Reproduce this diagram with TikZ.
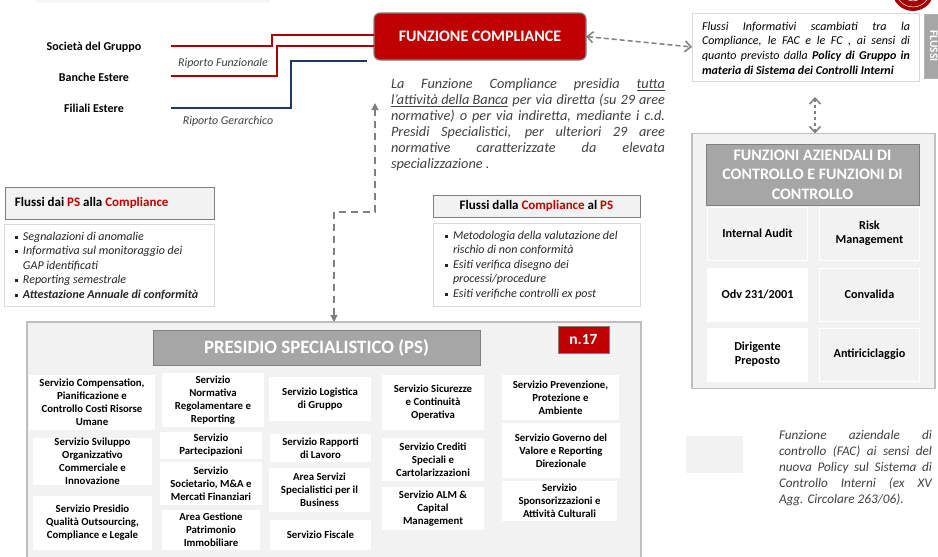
\documentclass[tikz,border=0pt]{standalone}
\usepackage{fontspec}
\setmainfont{Carlito}
\usepackage{xcolor}
\usepackage{tikz}
\usetikzlibrary{arrows.meta}

\definecolor{bankred}{HTML}{C00000}
\definecolor{bankblue}{HTML}{1F3864}
\definecolor{panelgray}{HTML}{F2F2F2}
\definecolor{headgray}{HTML}{A6A6A6}
\definecolor{edgegray}{HTML}{7F7F7F}
\definecolor{softgray}{HTML}{BFBFBF}
\definecolor{notetext}{HTML}{404040}

\newcommand{\blt}{\llap{\rule[1.8pt]{3pt}{3pt}\hspace{5.2pt}}}

\begin{document}
\begin{tikzpicture}[x=1pt,y=-1pt,line join=miter,
    every node/.style={inner sep=0pt,outer sep=0pt},
    label/.style={font=\fontsize{12}{14}\selectfont\bfseries,minimum width=154pt,align=center},
    riporto/.style={font=\fontsize{11.9}{14}\selectfont\itshape,text=notetext},
    redline/.style={draw=bankred!90!black,line width=1.2pt},
    blueline/.style={draw=bankblue,line width=1.1pt},
    flow/.style={draw=edgegray,line width=1.5pt,dash pattern=on 5pt off 3pt,{Straight Barb[length=6pt,width=11pt]}-{Straight Barb[length=6pt,width=11pt]}},
    note/.style={font=\fontsize{14.3}{16}\selectfont\itshape,text=notetext,align=justify,anchor=north west},
    flusso/.style={draw=edgegray,line width=0.9pt,fill=panelgray,font=\fontsize{13}{15}\selectfont\bfseries},
    flussotext/.style={font=\fontsize{13}{15}\selectfont\bfseries},
    listbox/.style={draw=black!15,line width=0.9pt,fill=white},
    listtext/.style={font=\fontsize{12}{14.5}\selectfont\itshape,text=black!85,align=left,anchor=north west},
    panel/.style={draw=softgray,line width=1.3pt,fill=panelgray},
    heading/.style={draw=edgegray,line width=0.6pt,fill=headgray,text=white,align=center},
    cellps/.style={fill=white,font=\fontsize{10.8}{13}\selectfont\bfseries,align=center},
    cellwhite/.style={fill=white,minimum width=101pt,minimum height=54pt,font=\fontsize{12.2}{14}\selectfont\bfseries,align=center},
    cellgray/.style={draw=white,line width=1pt,fill=panelgray,minimum width=100pt,minimum height=53pt,font=\fontsize{12.2}{14}\selectfont\bfseries,align=center}]

            \useasboundingbox (0,0) rectangle (938,557);
            \fill[black!3] (36,0) rectangle (270,3);

            % logo cut by the page
            \fill[bankred!85!black] (913,-10) circle (21pt);
            \draw[white,line width=0.5pt] (913,-10) circle (17pt) (913,-10) circle (11pt);

            % top left, the reporting lines
            \node[label] (societa) at (94,47) {Società del Gruppo};
            \node[label,node distance=30.5pt] (banche) [below of=societa] {Banche Estere};
            \node[label,node distance=30.5pt] (filiali) [below of=banche] {Filiali Estere};
            \node[draw=edgegray,line width=1.2pt,fill=bankred,rounded corners=6pt,minimum width=212pt,minimum height=47pt,text=white,font=\fontsize{16}{19}\selectfont\bfseries] (compliance) at (480,36.5) {FUNZIONE COMPLIANCE};
            \coordinate (upin) at (374,35);
            \coordinate (lowin) at (374,46);
            \coordinate (bluein) at (367,61);
            \draw[redline] (societa.east |- 0,46) -| (272,35) -- (upin);
            \draw[redline] (banche.east |- 0,76) -| (277,46) -- (lowin);
            \draw[blueline] (filiali.east |- 0,108) -| (291,61) -- (bluein);
            \node[riporto] (funzionale) at (223,63) {Riporto Funzionale};
            \node[riporto] (gerarchico) at (228,121) {Riporto Gerarchico};

            \node[note,text width=274pt] (presidia) at (391,79) {La Funzione Compliance presidia \underline{tutta}\linebreak
                \underline{l'attività della Banca} per via diretta (su 29 aree\linebreak
                normative) o per via indiretta, mediante i c.d.\linebreak
                Presidi Specialistici, per ulteriori 29 aree\linebreak
                normative caratterizzate da elevata\linebreak
                specializzazione .};

            % top right
            \node[draw=black!15,line width=0.9pt,fill=white,minimum width=227pt,minimum height=68pt] (flussibox) at (805.5,47) {};
            \node[note,text=black,font=\fontsize{12}{14.6}\selectfont\itshape,text width=208pt] (flussitext) at (702,22) {Flussi Informativi scambiati tra la\linebreak
                Compliance, le FAC e le FC , ai sensi di\linebreak
                quanto previsto dalla \textbf{Policy di Gruppo in}\linebreak
                \textbf{materia di Sistema dei Controlli Interni}};
            \node[fill=headgray,draw=edgegray!60,line width=0.6pt,minimum width=16pt,minimum height=64pt] (tab) at (932,46) {};
            \node[rotate=-90,anchor=base,text=white,font=\fontsize{11.5}{14}\selectfont\bfseries] (tabtext) at (930,46) {FLUSSI};
            \draw[flow] (compliance.east) -- (flussibox.west);

            \node[panel,minimum width=243pt,minimum height=255pt] (funzioni) at (813.5,261) {};
            \coordinate (flussidown) at (815,97);
            \draw[flow,dash pattern=on 3pt off 3pt] (flussidown) -- (funzioni.north -| flussidown);
            \node[heading,minimum width=213pt,minimum height=61pt,font=\fontsize{16}{19.5}\selectfont\bfseries] (funzhead) at (812.5,174.5) {FUNZIONI AZIENDALI DI\\CONTROLLO E FUNZIONI DI\\CONTROLLO};
            \node[cellgray] (audit) at (757.5,233.5) {Internal Audit};
            \node[cellgray,node distance=112pt] (risk) [right of=audit] {Risk\\Management};
            \node[cellwhite,node distance=61pt] (odv) [below of=audit] {Odv 231/2001};
            \node[cellgray,node distance=61pt] (convalida) [below of=risk] {Convalida};
            \node[cellwhite,node distance=60pt] (dirigente) [below of=odv] {Dirigente\\Preposto};
            \node[cellgray,node distance=60pt] (antiricicl) [below of=convalida] {Antiriciclaggio};

            % legend
            \node[fill=panelgray,minimum width=57pt,minimum height=37pt] (legenda) at (714.5,454.5) {};
            \node[note,font=\fontsize{13.2}{16}\selectfont\itshape,text width=153pt] (legendatext) at (779,430) {Funzione aziendale di\linebreak
                controllo (FAC) ai sensi del\linebreak
                nuova Policy sul Sistema di\linebreak
                Controllo Interni  (ex XV\linebreak
                Agg. Circolare 263/06).};

            % flows
            \node[flusso,minimum width=209pt,minimum height=32pt] (daips) at (109.5,203) {};
            \node[flussotext,anchor=west] (daipslabel) at ([xshift=10pt]daips.west) {Flussi dai \textcolor{bankred}{PS} alla \textcolor{bankred}{Compliance}};
            \node[listbox,minimum width=210pt,minimum height=82pt] (daipsbox) at (109,265) {};
            \node[listtext] (daipstext) at (23,232) {\blt Segnalazioni di anomalie\\
                \blt Informativa sul monitoraggio dei\\
                GAP identificati\\
                \blt Reporting semestrale\\
                \blt\textbf{Attestazione Annuale di conformità}};

            \node[flusso,minimum width=207pt,minimum height=22pt,align=center] (dallac) at (536.5,206) {Flussi dalla \textcolor{bankred}{Compliance} al \textcolor{bankred}{PS}};
            \node[listbox,minimum width=207pt,minimum height=83pt] (dallacbox) at (536.5,264.5) {};
            \node[listtext] (dallactext) at (453,231) {\blt Metodologia della valutazione del\\
                rischio di non conformità\\
                \blt Esiti verifica disegno dei\\
                processi/procedure\\
                \blt Esiti verifiche controlli ex post};

            % PS
            \node[panel,minimum width=614pt,minimum height=238pt] (ps) at (334,441) {};
            \coordinate (psup) at (375,103);
            \draw[draw=edgegray,line width=1.2pt,dash pattern=on 7pt off 5pt,{Triangle[length=7pt,width=7pt]}-{Triangle[length=7pt,width=7pt]}] (ps.north) |- (375,212) -- (psup);
            \node[heading,minimum width=327pt,minimum height=35pt,font=\fontsize{18.8}{22}\selectfont\bfseries] (pshead) at (316.5,347.5) {PRESIDIO SPECIALISTICO (PS)};
            \node[draw=edgegray,line width=0.8pt,fill=bankred,text=white,minimum width=51pt,minimum height=27pt,font=\fontsize{15.5}{18}\selectfont\bfseries] (nps) at (583.5,339.5) {n.17};

            \node[cellps,minimum width=126pt,minimum height=55pt] (compensation) at (92,402.5) {Servizio Compensation,\\Pianificazione e\\Controllo Costi Risorse\\Umane};
            \node[cellps,minimum width=119pt,minimum height=47pt] (sviluppo) at (92.5,461.5) {Servizio Sviluppo\\Organizzativo\\Commerciale e\\Innovazione};
            \node[cellps,minimum width=119pt,minimum height=54pt] (qualita) at (92.5,523) {Servizio Presidio\\Qualità Outsourcing,\\Compliance e Legale};

            \node[cellps,minimum width=102pt,minimum height=54pt] (normativa) at (213,400) {Servizio\\Normativa\\Regolamentare e\\Reporting};
            \node[cellps,minimum width=102pt,minimum height=27pt] (partecipazioni) at (211,445.5) {Servizio\\Partecipazioni};
            \node[cellps,minimum width=102pt,minimum height=43pt] (societario) at (211,483.5) {Servizio\\Societario, M\&A e\\Mercati Finanziari};
            \node[cellps,minimum width=98pt,minimum height=40pt] (patrimonio) at (211,530) {Area Gestione\\Patrimonio\\Immobiliare};

            \node[cellps,minimum width=102pt,minimum height=44pt] (logistica) at (320,399) {Servizio Logistica\\di Gruppo};
            \node[cellps,minimum width=101pt,minimum height=28pt] (rapporti) at (320.5,448) {Servizio Rapporti\\di Lavoro};
            \node[cellps,minimum width=101pt,minimum height=44pt] (specialistici) at (319.5,490) {Area Servizi\\Specialistici per il\\Business};
            \node[cellps,minimum width=101pt,minimum height=30pt] (fiscale) at (320.5,535) {Servizio Fiscale};

            \node[cellps,minimum width=102pt,minimum height=55pt] (sicurezze) at (433,402.5) {Servizio Sicurezze\\e Continuità\\Operativa};
            \node[cellps,minimum width=102pt,minimum height=43pt] (crediti) at (433,459.5) {Servizio Crediti\\Speciali e\\Cartolarizzazioni};
            \node[cellps,minimum width=102pt,minimum height=43pt] (alm) at (433,508.5) {Servizio ALM \&\\Capital\\Management};

            \node[cellps,minimum width=117pt,minimum height=45pt] (prevenzione) at (560.5,397.5) {Servizio Prevenzione,\\Protezione e\\Ambiente};
            \node[cellps,minimum width=118pt,minimum height=55pt] (governo) at (561,450.5) {Servizio Governo del\\Valore e Reporting\\Direzionale};
            \node[cellps,minimum width=115pt,minimum height=40pt] (sponsor) at (559.5,501) {Servizio\\Sponsorizzazioni e\\Attività Culturali};
        \end{tikzpicture}
\end{document}
